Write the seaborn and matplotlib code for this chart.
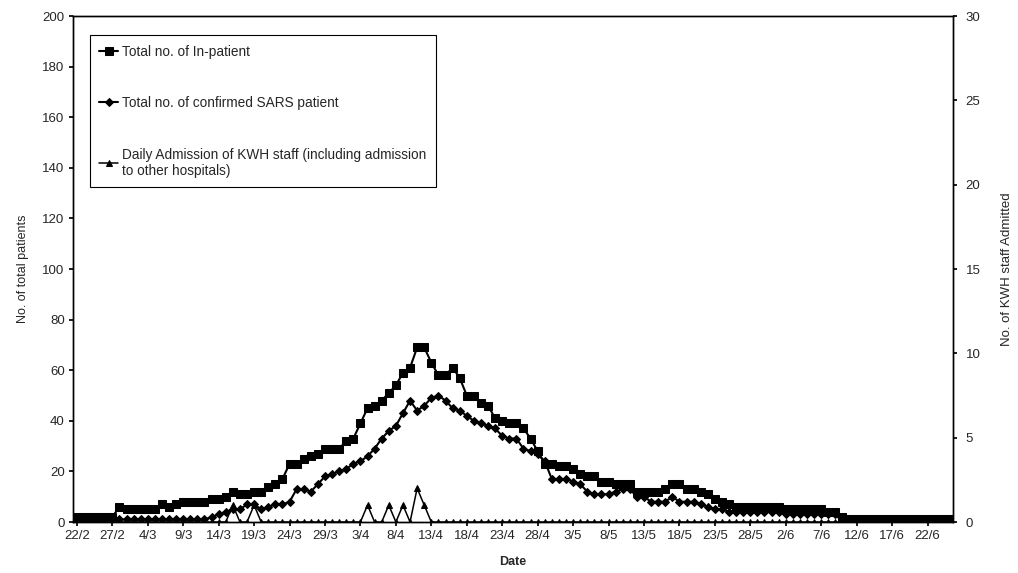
import matplotlib
matplotlib.use("Agg")
import matplotlib.pyplot as plt
import seaborn as sns
import numpy as np
import pandas as pd

# ---------------- data ----------------
tick_labels = ["22/2", "27/2", "4/3", "9/3", "14/3", "19/3", "24/3", "29/3", "3/4",
               "8/4", "13/4", "18/4", "23/4", "28/4", "3/5", "8/5", "13/5", "18/5",
               "23/5", "28/5", "2/6", "7/6", "12/6", "17/6", "22/6"]

in_patient = [2, 2, 2, 2, 2, 2,
              6, 5, 5, 5, 5, 5,
              7, 6, 7, 8, 8, 8, 8, 9, 9, 10,
              12, 11, 11, 12, 12, 14, 15, 17,
              23, 23, 25, 26, 27, 29, 29, 29, 32, 33,
              39, 45, 46, 48, 51, 54, 59, 61, 69, 69,
              63, 58, 58, 61, 57, 50, 50, 47, 46, 41,
              40, 39, 39, 37, 33, 28, 23, 23, 22, 22,
              21, 19, 18, 18, 16, 16, 15, 15, 15, 12,
              12, 12, 12, 13, 15, 15, 13, 13, 12, 11,
              9, 8, 7, 6, 6, 6, 6, 6, 6, 6,
              5, 5, 5, 5, 5, 5, 4, 4, 2, 1,
              1, 1, 1, 1, 1, 1, 1, 1, 1, 1, 1, 1, 1, 1]

sars = [0, 0, 0, 0, 0, 0,
        1, 1, 1, 1, 1, 1,
        1, 1, 1, 1, 1, 1, 1, 2, 3, 4,
        5, 5, 7, 7, 5, 6, 7, 7,
        8, 13, 13, 12, 15, 18, 19, 20, 21, 23,
        24, 26, 29, 33, 36, 38, 43, 48, 44, 46,
        49, 50, 48, 45, 44, 42, 40, 39, 38, 37,
        34, 33, 33, 29, 28, 27, 24, 17, 17, 17,
        16, 15, 12, 11, 11, 11, 12, 13, 13, 10,
        10, 8, 8, 8, 10, 8, 8, 8, 7, 6,
        5, 5, 4, 4, 4, 4, 4, 4, 4, 4,
        3, 3, 3, 3, 3, 3, 3, 3, 0, 0,
        0, 0, 0, 0, 0, 0, 0, 0, 0, 0, 0, 0, 0, 0]

staff = [0] * 124
staff_spike_days = [22, 25, 41, 44, 46, 48, 49]
staff_spike_vals = [1, 1, 1, 1, 1, 2, 1]
for d, v in zip(staff_spike_days, staff_spike_vals):
    staff[d] = v

days = np.arange(len(in_patient))
df = pd.DataFrame({"day": days, "inpatient": in_patient, "sars": sars, "staff": staff})

# ---------------- plot ----------------
sns.set_theme(style="white")
plt.rcParams["font.family"] = ["Liberation Sans", "DejaVu Sans"]

fig = plt.figure(figsize=(10.18, 5.73), dpi=100)
ax = fig.add_axes([0.0717, 0.089, 0.8645, 0.883])
ax2 = ax.twinx()

sns.lineplot(data=df, x="day", y="inpatient", ax=ax, color="black", marker="s",
             markersize=6, markeredgecolor="black", linewidth=1.5,
             label="Total no. of In-patient", legend=False)
sns.lineplot(data=df, x="day", y="sars", ax=ax, color="black", marker="D",
             markersize=4.5, markeredgecolor="black", linewidth=1.5,
             label="Total no. of confirmed SARS patient", legend=False)
sns.lineplot(data=df, x="day", y="staff", ax=ax2, color="black", marker="^",
             markersize=4.5, markeredgecolor="black", markerfacecolor="black",
             linewidth=1.1,
             label="Daily Admission of KWH staff (including admission\nto other hospitals)",
             legend=False)

ax.set_xlim(-0.55, 123.6)
ax.set_ylim(0, 200)
ax2.set_ylim(0, 30)
ax.set_yticks(np.arange(0, 201, 20))
ax2.set_yticks(np.arange(0, 31, 5))
ax.set_xticks(np.arange(0, 121, 5))
ax.set_xticklabels(tick_labels)

for a in (ax, ax2):
    for s in a.spines.values():
        s.set_color("black")
        s.set_linewidth(1.0)
ax.tick_params(axis="both", labelsize=9.5, length=3, color="black", direction="out",
               bottom=True, left=True, pad=3)
ax2.tick_params(axis="y", labelsize=9.5, length=3, color="black", direction="out",
                right=True, pad=6)

ax.set_xlabel("Date", fontsize=9, fontweight="bold")
ax.set_ylabel("No. of total patients", fontsize=9)
ax2.set_ylabel("No. of KWH staff Admitted", fontsize=9.5)
ax.yaxis.set_label_coords(-0.05, 0.5)
ax2.yaxis.set_label_coords(1.054, 0.5)
ax.xaxis.set_label_coords(0.5, -0.068)

h1, l1 = ax.get_legend_handles_labels()
h2, l2 = ax2.get_legend_handles_labels()
leg = ax2.legend(h1 + h2, l1 + l2, loc="upper left", bbox_to_anchor=(0.019, 0.962),
                 fontsize=9.8, labelspacing=2.75, handlelength=1.4, handletextpad=0.3,
                 fancybox=False, framealpha=1, edgecolor="black", borderpad=0.7,
                 borderaxespad=0)
leg.get_frame().set_linewidth(0.8)

fig.savefig("out.png", dpi=100)
